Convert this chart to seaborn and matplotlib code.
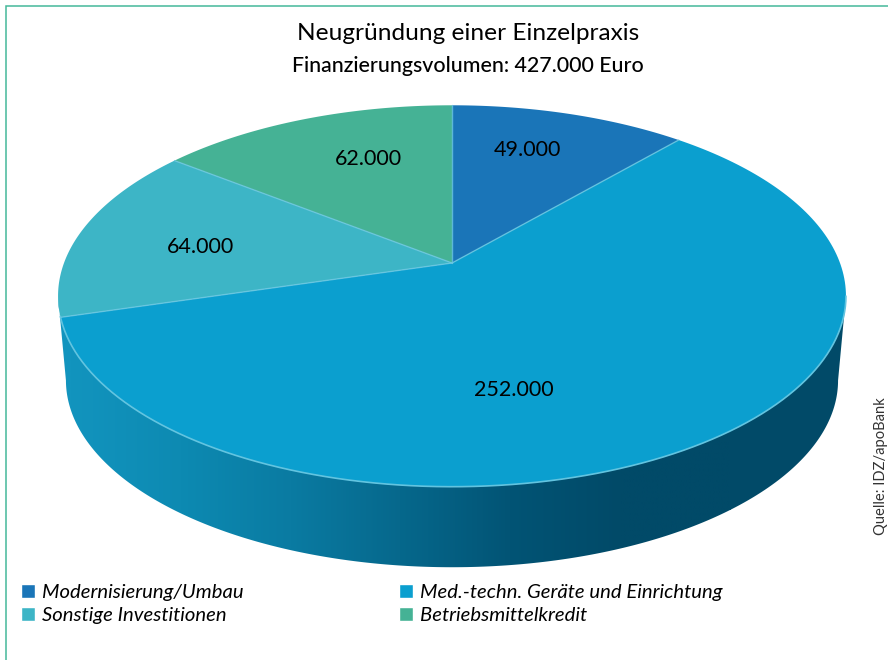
import numpy as np
import matplotlib
matplotlib.use('Agg')
import matplotlib.pyplot as plt
from matplotlib.patches import Patch, Polygon
import seaborn as sns

categories = ['Modernisierung/Umbau', 'Med.-techn. Geräte und Einrichtung',
              'Sonstige Investitionen', 'Betriebsmittelkredit']
values = [49000, 252000, 64000, 62000]
value_labels = ['49.000', '252.000', '64.000', '62.000']
slice_colors = ['#1A75B8', '#0B9FCF', '#3DB5C6', '#45B295']
side_colors = ['#1294BE', '#0D8AB2', '#0A7BA2', '#06688C', '#025475', '#014A68', '#014A68']

# pixel layout of the pie
CX, CY = 452, 263
RX, RY = 388, 185
TILT = 0.173
DEPTH = 84
SHRINK = 0.98


def project(theta, cy=CY, scale=1.0):
    # theta in degrees, clockwise from top, perspective squeezes the far side
    t = np.radians(theta)
    x, y = np.sin(t), np.cos(t)
    w = 1 + TILT * y
    return CX + scale * RX * x / w, cy - scale * RY * y / w


def generate_chart():
    sns.set_theme(style='white')
    plt.rcParams['font.family'] = ['Lato', 'DejaVu Sans']

    fig = plt.figure(figsize=(8.88, 6.6), dpi=100)
    ax = fig.add_axes([0, 0, 1, 1])
    ax.axis('off')

    # frame, only left and top
    ax.plot([6, 6, 888], [660, 6, 6], color='#45B89A', lw=1.1, solid_joinstyle='miter')

    # side wall, horizontal gradient clipped to the wall outline
    palette = sns.blend_palette(side_colors, 256)
    angles = np.linspace(100, 260, 300)
    xt, yt = project(angles)
    xb, yb = project(angles, CY + DEPTH + 1, SHRINK)
    wall = Polygon(np.c_[np.r_[xt, xb[::-1]], np.r_[yt, yb[::-1]]], transform=ax.transData,
                   facecolor='none', edgecolor='none')
    ax.add_patch(wall)
    img = ax.imshow(np.array(palette)[None, :, :], extent=[70, 730, 600, 250],
                    aspect='auto', interpolation='bilinear')
    img.set_clip_path(wall)
    # parts left and right of the gradient range
    for x0, x1, col in [(40, 70, palette[0]), (730, 860, palette[-1])]:
        band = ax.fill([x0, x1, x1, x0], [250, 250, 600, 600], color=col, lw=0)[0]
        band.set_clip_path(wall)

    # top face
    edges = np.cumsum([0] + values) / sum(values) * 360
    for i in range(len(values)):
        th = np.linspace(edges[i], edges[i + 1], 200)
        x, y = project(th)
        ax.fill(np.r_[CX, x], np.r_[CY, y], color=slice_colors[i], lw=0)

    # light rim and slice borders
    rim = np.linspace(100, 254, 300)
    ax.plot(*project(rim), color='#62C4E0', lw=1.2)
    for e in edges[:-1]:
        x, y = project(e)
        ax.plot([CX, x], [CY, y], color='#6CC8E2', lw=1.0, alpha=0.8)

    # slice labels
    label_x = [527, 514, 200, 368]
    label_y = [150, 390, 247, 159]
    for lx, ly, txt in zip(label_x, label_y, value_labels):
        ax.text(lx, ly, txt, ha='center', va='center', fontsize=15.5, color='black')

    ax.text(468, 33, 'Neugründung einer Einzelpraxis', ha='center', va='center',
            fontsize=17.6, color='black')
    ax.text(468, 66, 'Finanzierungsvolumen: 427.000 Euro', ha='center', va='center',
            fontsize=15.4, color='black', fontweight='medium')

    ax.text(881, 466, 'Quelle: IDZ/apoBank', rotation=90, ha='center', va='center',
            fontsize=10.6, color='#333333')

    # legend fills column by column
    order = [0, 2, 1, 3]
    handles = [Patch(facecolor=slice_colors[i], label=categories[i]) for i in order]
    leg = ax.legend(handles=handles, ncol=2, frameon=False, loc='upper left',
                    bbox_to_anchor=(16 / 888, 1 - 579 / 660), borderaxespad=0,
                    prop={'size': 14.6, 'style': 'italic', 'family': 'Lato'},
                    handlelength=0.7, handleheight=0.7, handletextpad=0.35,
                    labelspacing=0.28, columnspacing=7.65, borderpad=0.25)
    for t in leg.get_texts():
        t.set_color('black')

    ax.set_xlim(0, 888)
    ax.set_ylim(660, 0)
    fig.savefig('out.png', dpi=100)
    plt.close(fig)


if __name__ == '__main__':
    generate_chart()
